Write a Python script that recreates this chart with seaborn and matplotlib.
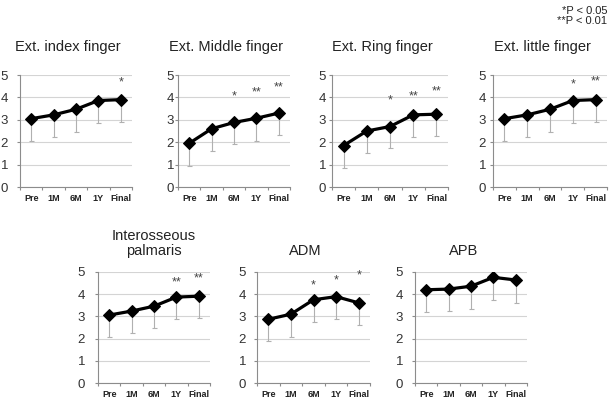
import numpy as np
import pandas as pd
import matplotlib
matplotlib.use("Agg")
import matplotlib.pyplot as plt
import seaborn as sns

sns.set_theme(style="white")
plt.rcParams['font.family'] = ['Liberation Sans', 'DejaVu Sans']

# ---------------- data ----------------
categories = ["Pre", "1M", "6M", "1Y", "Final"]

titles = ["Ext. index finger", "Ext. Middle finger", "Ext. Ring finger",
          "Ext. little finger", "Interosseous\npalmaris", "ADM", "APB"]

means_index = [3.05, 3.22, 3.47, 3.86, 3.90]
sd_index = [1.00, 1.00, 1.00, 1.00, 1.00]
means_middle = [1.95, 2.60, 2.88, 3.07, 3.30]
sd_middle = [1.00, 0.98, 0.98, 1.00, 1.00]
means_ring = [1.85, 2.50, 2.70, 3.22, 3.25]
sd_ring = [0.98, 0.98, 0.98, 0.98, 0.98]
means_little = [3.05, 3.22, 3.47, 3.86, 3.90]
sd_little = [1.00, 1.00, 1.00, 1.00, 1.00]
means_inter = [3.06, 3.24, 3.46, 3.87, 3.91]
sd_inter = [1.00, 1.00, 1.00, 1.00, 1.00]
means_adm = [2.87, 3.10, 3.75, 3.89, 3.61]
sd_adm = [1.00, 1.01, 0.98, 1.00, 1.01]
means_apb = [4.20, 4.23, 4.36, 4.76, 4.64]
sd_apb = [0.98, 1.00, 1.02, 1.04, 1.02]

means = [means_index, means_middle, means_ring, means_little,
         means_inter, means_adm, means_apb]
sds = [sd_index, sd_middle, sd_ring, sd_little, sd_inter, sd_adm, sd_apb]

# significance marks: (category, height, label)
stars = [
    [("Final", 4.82, "*")],
    [("6M", 4.20, "*"), ("1Y", 4.37, "**"), ("Final", 4.58, "**")],
    [("6M", 4.03, "*"), ("1Y", 4.21, "**"), ("Final", 4.40, "**")],
    [("1Y", 4.73, "*"), ("Final", 4.88, "**")],
    [("1Y", 4.70, "**"), ("Final", 4.85, "**")],
    [("6M", 4.56, "*"), ("1Y", 4.77, "*"), ("Final", 4.98, "*")],
    [],
]
legend_lines = ["*P < 0.05", "**P < 0.01"]
y_ticks = [0, 1, 2, 3, 4, 5]

# ---------------- layout (pixels) ----------------
W, H = 610, 400
# (left, right, top, bottom) in pixel coordinates
boxes = [(20, 132, 75, 187), (178, 290, 75, 187), (332, 448, 75, 187),
         (493, 607, 75, 187),
         (98, 210, 272, 383), (257, 370, 272, 383), (415, 527, 272, 383)]
label_gap = [11, 3, 5, 6, 12, 10, 11]          # px between axis and y labels
title_baseline = [51, 51, 51, 51, 255, 255, 255]
title_dx = [-8, -8, -8, -8, 0, -8, -7]

fig = plt.figure(figsize=(W / 100, H / 100), dpi=100)

for i in range(7):
    l, r, t, b = boxes[i]
    ax = fig.add_axes([l / W, (H - b) / H, (r - l) / W, (b - t) / H])
    df = pd.DataFrame({"time": categories, "score": means[i]})
    ax.errorbar(categories, means[i], yerr=[sds[i], np.zeros(len(sds[i]))],
                fmt="none", ecolor="#b0b0b0", elinewidth=0.8, capsize=1.8,
                capthick=0.8, zorder=2)
    sns.lineplot(data=df, x="time", y="score", marker="D", color="black",
                 linewidth=2.3, markersize=6, markeredgecolor="black",
                 sort=False, errorbar=None, ax=ax, zorder=3)
    ax.set_xlim(-0.5, len(categories) - 0.5)
    ax.set_ylim(0, 5)
    ax.set_yticks(y_ticks)
    ax.set_xlabel("")
    ax.set_ylabel("")
    ax.grid(axis="y", color="#d4d4d4", linewidth=0.8)
    ax.set_axisbelow(True)
    for s in ["top", "right"]:
        ax.spines[s].set_visible(False)
    for s in ["left", "bottom"]:
        ax.spines[s].set_color("#8c8c8c")
        ax.spines[s].set_linewidth(0.8)
    # category boundary ticks (Excel style) and centred labels
    ax.set_xticks(np.arange(-0.5, len(categories)), labels=[])
    ax.set_xticks(np.arange(len(categories)), labels=categories, minor=True)
    ax.tick_params(axis="x", which="major", length=2.5, width=0.8,
                   color="#8c8c8c", direction="out", bottom=True)
    ax.tick_params(axis="x", which="minor", length=0, pad=5,
                   labelsize=6.5, labelcolor="#222222", bottom=True)
    for lab in ax.get_xticklabels(minor=True):
        lab.set_fontweight("bold")
    ax.tick_params(axis="y", length=2.5, width=0.8, color="#8c8c8c",
                   direction="out", left=True,
                   pad=(label_gap[i] - 2.5) * 0.72,
                   labelsize=9.5, labelcolor="#333333")
    # title
    ax_h = b - t
    ax_w = r - l
    ax.text(0.5 + title_dx[i] / ax_w, 1 + (t - title_baseline[i]) / ax_h,
            titles[i], transform=ax.transAxes, ha="center", va="baseline",
            fontsize=10.5, color="#222222", linespacing=1.1)
    # significance stars
    for cat, yv, lab in stars[i]:
        ax.annotate(lab, (categories.index(cat), yv), xytext=(0, -2.5),
                    textcoords="offset points", ha="center", va="center",
                    fontsize=9, color="#444444")

fig.text(607 / W, 1 - 11 / H, legend_lines[0], ha="right", va="center",
         fontsize=8, color="#222222")
fig.text(607 / W, 1 - 21 / H, legend_lines[1], ha="right", va="center",
         fontsize=8, color="#222222")

fig.savefig("out.png", dpi=100, facecolor="white")
